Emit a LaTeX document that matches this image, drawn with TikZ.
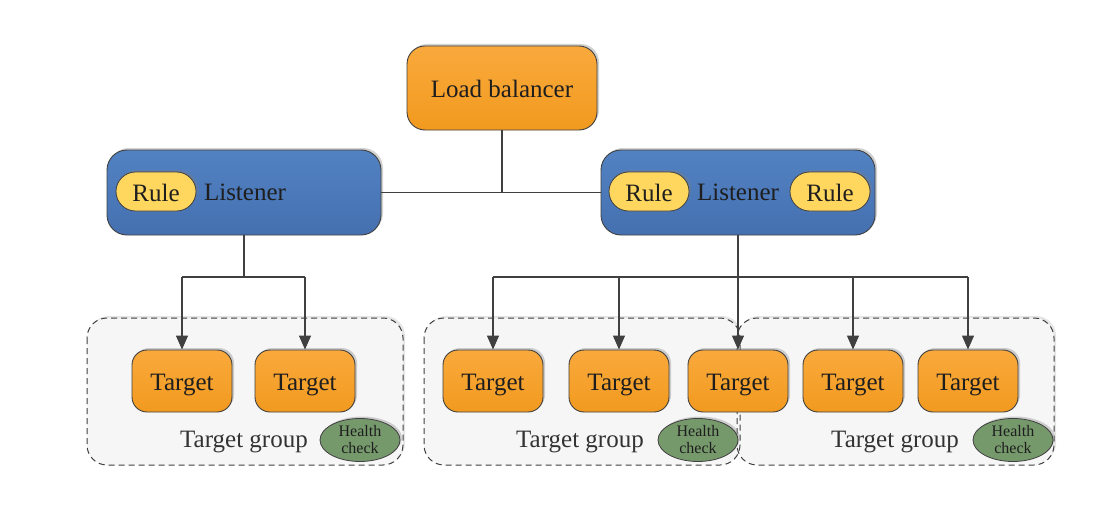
\documentclass[tikz,border=0pt]{standalone}
\usepackage{fontspec}
\setmainfont{Liberation Serif}
\newfontfamily\labelface{Liberation Serif}
\usetikzlibrary{shadows,arrows.meta,shapes.geometric,shapes.misc}

\definecolor{orangetop}{HTML}{F9A93C}
\definecolor{orangebot}{HTML}{F29A1F}
\definecolor{bluetop}{HTML}{5282C2}
\definecolor{bluebot}{HTML}{4570B0}
\definecolor{rulefill}{HTML}{FFD75E}
\definecolor{hcfill}{HTML}{76996C}
\definecolor{edge}{HTML}{404040}
\definecolor{groupfill}{HTML}{F6F6F6}
\definecolor{txt}{HTML}{1E1E1E}

\tikzset{
  basefont/.style={font=\labelface\fontsize{25}{28}\selectfont, text=txt,
    text height=19pt, text depth=0pt},
  shadowed/.style={drop shadow={shadow xshift=2pt, shadow yshift=2pt, opacity=0.35, fill=gray}},
  lbbox/.style={basefont, draw=edge, line width=0.9pt, rounded corners=18pt,
    top color=orangetop, bottom color=orangebot, shadowed,
    minimum width=190pt, minimum height=84pt, inner sep=0pt},
  listenerbox/.style={draw=edge, line width=0.9pt, rounded corners=20pt,
    top color=bluetop, bottom color=bluebot, shadowed,
    minimum width=274pt, minimum height=85pt, inner sep=0pt},
  rulepill/.style={basefont, draw=edge, line width=0.8pt, rounded rectangle,
    fill=rulefill, shadowed, minimum width=80pt, minimum height=39pt, inner sep=0pt},
  targetbox/.style={basefont, draw=edge, line width=0.9pt, rounded corners=15pt,
    top color=orangetop, bottom color=orangebot, shadowed,
    minimum width=100pt, minimum height=62pt, inner sep=0pt},
  groupbox/.style={fill=groupfill, rounded corners=20pt,
    drop shadow={shadow xshift=2pt, shadow yshift=2pt, opacity=0.2, fill=gray}},
  groupedge/.style={draw=edge, line width=1pt, rounded corners=20pt,
    dash pattern=on 6pt off 4pt},
  healthcheck/.style={draw=edge, line width=0.8pt, ellipse, fill=hcfill, shadowed,
    minimum width=80pt, minimum height=43pt, inner sep=0pt, align=center,
    font=\labelface\fontsize{16}{17}\selectfont, text=txt},
  grouplabel/.style={basefont, text=black!80},
  wire/.style={draw=edge, line width=1.3pt},
  arrow/.style={wire, -{Triangle[length=14pt, width=12pt]}}
}

\begin{document}
\begin{tikzpicture}[x=1pt, y=-1pt]
  \useasboundingbox (0,0) rectangle (1117,527);
  \fill[white] (0,0) rectangle (1117,527);

  % target groups: fills first, dashed borders on top
  \path[groupbox] (87,318) rectangle (403,465);
  \path[groupbox] (424,318) rectangle (740,465);
  \path[groupbox] (737,318) rectangle (1054,465);
  \path[groupedge] (87,318) rectangle (403,465);
  \path[groupedge] (424,318) rectangle (740,465);
  \path[groupedge] (737,318) rectangle (1054,465);

  % load balancer and listeners
  \node[lbbox] (lb) at (502,88) {Load balancer};
  \node[listenerbox] (ll) at (244,192.5) {};
  \node[listenerbox] (rl) at (738,192.5) {};
  \node[rulepill] (lrule) at (156,191.5) {Rule};
  \node[basefont] (ltext) at (245,191) {Listener};
  \node[rulepill] (rrule1) at (649,191.5) {Rule};
  \node[basefont] (rtext) at (738,191) {Listener};
  \node[rulepill] (rrule2) at (830,191.5) {Rule};

  % targets
  \node[targetbox] (t1) at (182,381) {Target};
  \node[targetbox] (t2) at (305,381) {Target};
  \node[targetbox] (t3) at (493,381) {Target};
  \node[targetbox] (t4) at (619,381) {Target};
  \node[targetbox] (t5) at (738,381) {Target};
  \node[targetbox] (t6) at (853,381) {Target};
  \node[targetbox] (t7) at (968,381) {Target};

  % group labels and health checks
  \node[grouplabel] (g1) at (244,438) {Target group};
  \node[grouplabel] (g2) at (580,438) {Target group};
  \node[grouplabel] (g3) at (895,438) {Target group};
  \node[healthcheck] (h1) at (360,440) {Health\\check};
  \node[healthcheck] (h2) at (698,440) {Health\\check};
  \node[healthcheck] (h3) at (1013,440) {Health\\check};

  % connectors
  \coordinate (lbjoin) at (lb.south |- ll.east);
  \draw[wire] (lb.south) -- (lbjoin);
  \draw[wire] (ll.east) -- (rl.west);

  \coordinate (lbus) at (244,277);
  \draw[wire] (ll.south) -- (lbus);
  \draw[wire] (lbus -| t1) -- (lbus -| t2);
  \draw[arrow] (lbus -| t1) -- (t1.north);
  \draw[arrow] (lbus -| t2) -- (t2.north);

  \coordinate (rbus) at (738,277);
  \draw[wire] (rbus -| t3) -- (rbus -| t7);
  \draw[arrow] (rl.south) -- (t5.north);
  \draw[arrow] (rbus -| t3) -- (t3.north);
  \draw[arrow] (rbus -| t4) -- (t4.north);
  \draw[arrow] (rbus -| t6) -- (t6.north);
  \draw[arrow] (rbus -| t7) -- (t7.north);
\end{tikzpicture}
\end{document}
